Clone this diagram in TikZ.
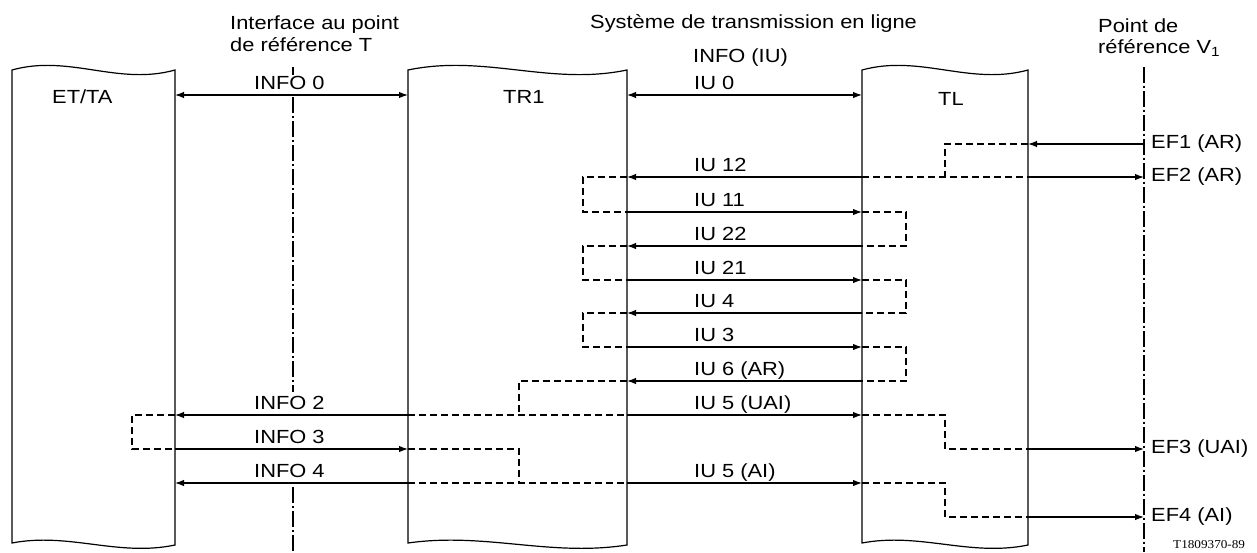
\documentclass[tikz,border=0pt]{standalone}
\usepackage{fontspec}
\setmainfont{Liberation Sans}[FakeStretch=1.15]
\newfontfamily\codefont{Liberation Serif}[FakeStretch=1.1]
\usetikzlibrary{arrows.meta}
\begin{document}
\begin{tikzpicture}[x=1pt,y=-1pt,
  box/.style={line width=1.2pt},
  tip/.tip={Latex[length=9pt,width=6.5pt]},
  sig/.style={line width=1.2pt,-tip},
  dbl/.style={line width=1.2pt,tip-tip},
  dsh/.style={line width=1.2pt,dash pattern=on 7pt off 4pt},
  refl/.style={line width=1.2pt,dash pattern=on 16pt off 3pt on 2pt off 3pt},
  lbl/.style={anchor=base west,inner sep=0pt,font=\fontsize{19}{21}\selectfont},
  code/.style={anchor=base west,inner sep=0pt,font=\codefont\fontsize{12}{13}\selectfont}]
\useasboundingbox (0,0) rectangle (1257,552);

% boxes
\draw[box] (12,70) .. controls (69,54) and (118,86) .. (175,70) -- (175,545)
  .. controls (118,557) and (69,532) .. (12,543) -- cycle;
\draw[box] (408,70) .. controls (485,54) and (550,86) .. (627,70) -- (627,545)
  .. controls (550,557) and (485,532) .. (408,543) -- cycle;
\draw[box] (862,70) .. controls (920,54) and (970,86) .. (1028,70) -- (1028,545)
  .. controls (970,557) and (920,532) .. (862,543) -- cycle;
\node[lbl] (et) at (52,103) {ET/TA};
\node[lbl] (tr) at (503,103) {TR1};
\node[lbl] (tl) at (938,105) {TL};

% x positions
\coordinate (etR) at (175,0);
\coordinate (trL) at (408,0);
\coordinate (trR) at (627,0);
\coordinate (tlL) at (862,0);
\coordinate (tlR) at (1028,0);
\coordinate (V) at (1144,0);
\coordinate (T) at (293,0);
\coordinate (xe) at (132,0);
\coordinate (xm) at (519,0);
\coordinate (xl) at (583,0);
\coordinate (xn) at (945,0);
\coordinate (xr) at (906,0);
% rows
\coordinate (r0) at (0,95);
\coordinate (rA) at (0,144);
\coordinate (rB) at (0,177);
\coordinate (rC) at (0,212);
\coordinate (rD) at (0,246);
\coordinate (rE) at (0,280);
\coordinate (rF) at (0,313);
\coordinate (rG) at (0,347);
\coordinate (rH) at (0,381);
\coordinate (rI) at (0,415);
\coordinate (rJ) at (0,449);
\coordinate (rK) at (0,483);
\coordinate (rL) at (0,517);
\coordinate (top) at (0,67);
\coordinate (bot) at (0,552);

% reference lines
\draw[refl] (T|-top) -- (293,75);
\draw[refl] (293,97) -- (293,392);
\draw[refl] (293,487) -- (T|-bot);
\draw[refl] (V|-top) -- (V|-bot);

% top labels
\node[lbl] (t1) at (230,29) {Interface au point};
\node[lbl] (t2) at (230,51) {de référence T};
\node[lbl] (s1) at (590,28) {Système de transmission en ligne};
\node[lbl] (s2) at (693,62) {INFO (IU)};
\node[lbl] (p1) at (1098,32) {Point de};
\node[lbl] (p2) at (1098,53) {référence V\textsubscript{1}};

% dashed links
\draw[dsh] (tlR|-rA) -| (xn|-rB);
\draw[dsh] (tlL|-rB) -- (tlR|-rB);
\draw[dsh] (trR|-rB) -| (xl|-rC) -- (trR|-rC);
\draw[dsh] (tlL|-rC) -| (xr|-rD) -- (tlL|-rD);
\draw[dsh] (trR|-rD) -| (xl|-rE) -- (trR|-rE);
\draw[dsh] (tlL|-rE) -| (xr|-rF) -- (tlL|-rF);
\draw[dsh] (trR|-rF) -| (xl|-rG) -- (trR|-rG);
\draw[dsh] (tlL|-rG) -| (xr|-rH) -- (tlL|-rH);
\draw[dsh] (trR|-rH) -| (xm|-rI);
\draw[dsh] (trL|-rI) -- (trR|-rI);
\draw[dsh] (tlL|-rI) -| (xn|-rJ) -- (tlR|-rJ);
\draw[dsh] (etR|-rI) -| (xe|-rJ) -- (etR|-rJ);
\draw[dsh] (trL|-rJ) -| (xm|-rK);
\draw[dsh] (trL|-rK) -- (trR|-rK);
\draw[dsh] (tlL|-rK) -| (xn|-rL) -- (tlR|-rL);

% signals
\draw[dbl] (etR|-r0) -- (trL|-r0);
\draw[dbl] (trR|-r0) -- (tlL|-r0);
\draw[sig] (V|-rA) -- (tlR|-rA);
\draw[sig] (tlL|-rB) -- (trR|-rB);
\draw[sig] (tlR|-rB) -- (V|-rB);
\draw[sig] (trR|-rC) -- (tlL|-rC);
\draw[sig] (tlL|-rD) -- (trR|-rD);
\draw[sig] (trR|-rE) -- (tlL|-rE);
\draw[sig] (tlL|-rF) -- (trR|-rF);
\draw[sig] (trR|-rG) -- (tlL|-rG);
\draw[sig] (tlL|-rH) -- (trR|-rH);
\draw[sig] (trL|-rI) -- (etR|-rI);
\draw[sig] (trR|-rI) -- (tlL|-rI);
\draw[sig] (etR|-rJ) -- (trL|-rJ);
\draw[sig] (tlR|-rJ) -- (V|-rJ);
\draw[sig] (trL|-rK) -- (etR|-rK);
\draw[sig] (trR|-rK) -- (tlL|-rK);
\draw[sig] (tlR|-rL) -- (V|-rL);

% signal labels
\node[lbl] (l0) at (254,89) {INFO 0};
\node[lbl] (u0) at (694,89) {IU 0};
\node[lbl] (u12) at (694,171) {IU 12};
\node[lbl] (u11) at (694,206) {IU 11};
\node[lbl] (u22) at (694,240) {IU 22};
\node[lbl] (u21) at (694,274) {IU 21};
\node[lbl] (u4) at (694,307) {IU 4};
\node[lbl] (u3) at (694,341) {IU 3};
\node[lbl] (u6) at (694,375) {IU 6 (AR)};
\node[lbl] (l2) at (254,409) {INFO 2};
\node[lbl] (u5a) at (694,409) {IU 5 (UAI)};
\node[lbl] (l3) at (254,443) {INFO 3};
\node[lbl] (l4) at (254,477) {INFO 4};
\node[lbl] (u5b) at (694,477) {IU 5 (AI)};
\node[lbl] (e1) at (1151,148) {EF1 (AR)};
\node[lbl] (e2) at (1151,181) {EF2 (AR)};
\node[lbl] (e3) at (1151,453) {EF3 (UAI)};
\node[lbl] (e4) at (1151,521) {EF4 (AI)};
\node[code] (c) at (1173,548) {T1809370-89};
\end{tikzpicture}
\end{document}
